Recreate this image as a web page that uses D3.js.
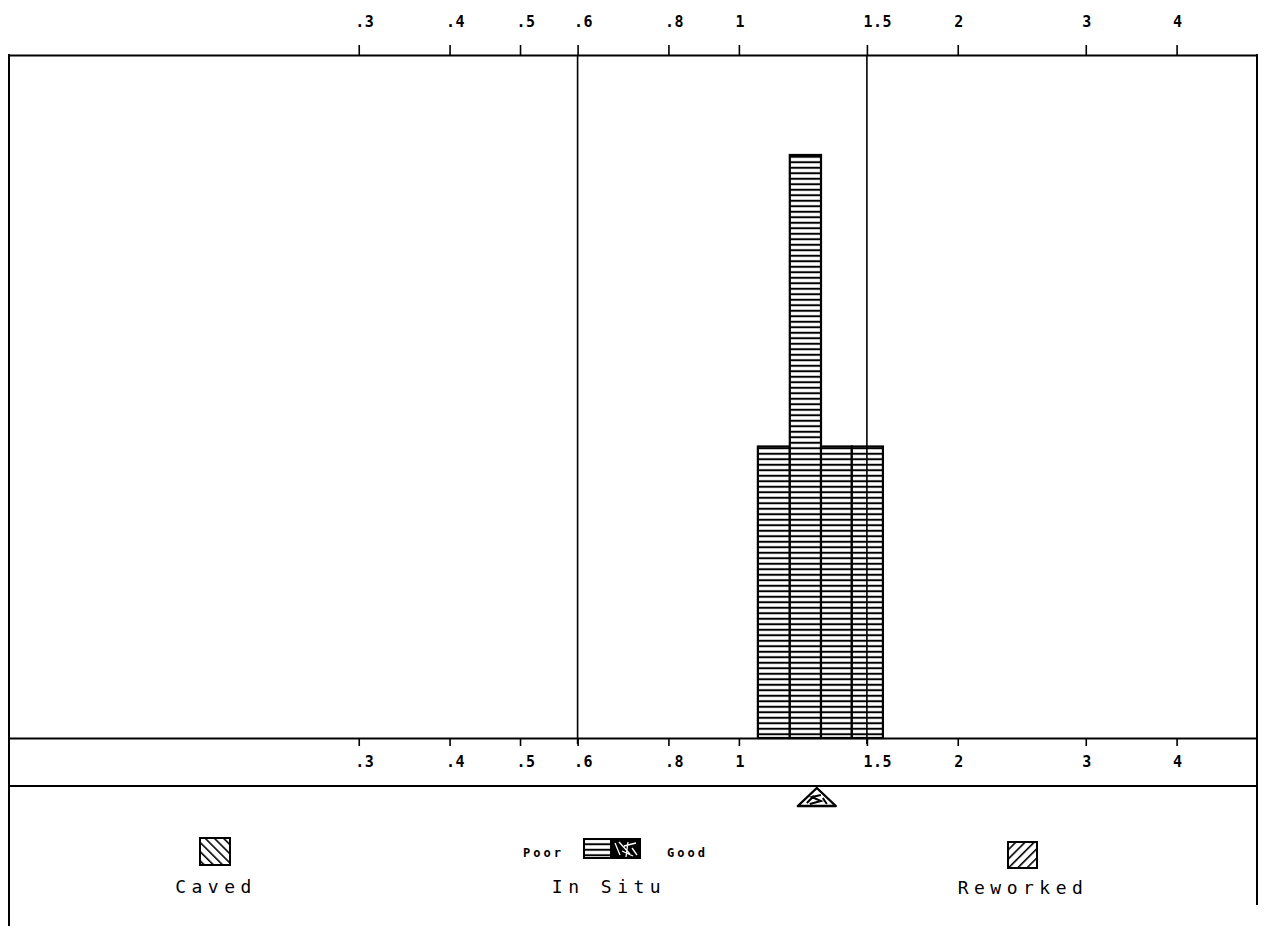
<!DOCTYPE html>
<html><head><meta charset="utf-8">
<script src="https://cdn.jsdelivr.net/npm/d3@7"></script>
<style>body{margin:0;background:#fff}svg{display:block}</style>
</head><body><svg id="c" width="1264" height="926"></svg>
<script>
// ---- data ----
const tickValues = [0.3, 0.4, 0.5, 0.6, 0.8, 1, 1.5, 2, 3, 4];
const tickLabels = [".3", ".4", ".5", ".6", ".8", "1", "1.5", "2", "3", "4"];
const binLower  = [1.062, 1.175, 1.297, 1.43];
const binUpper  = [1.175, 1.297, 1.43, 1.578];
const binCounts = [1, 2, 1, 1];
const refLines  = [0.6, 1.5];
const meanMarker = [1.28];
const legendNames = ["Caved", "In Situ", "Reworked"];
const legendSub = ["Poor", "Good"];

// ---- layout ----
const L = 9, R = 1257, T = 55, B = 738, B2 = 786;
const svg = d3.select("#c");
const x = d3.scaleLog().domain([0.0991, 5.16]).range([L, R]);
const y = d3.scaleLinear().domain([0, 2.343]).range([B, T]);
const font = "'DejaVu Sans Mono', monospace";

// patterns
const defs = svg.append("defs");
const ph = defs.append("pattern").attr("id","hlines").attr("patternUnits","userSpaceOnUse")
  .attr("width",8).attr("height",5.5);
ph.append("rect").attr("width",8).attr("height",5.5).attr("fill","#fff");
ph.append("line").attr("x1",0).attr("x2",8).attr("y1",2.75).attr("y2",2.75).attr("stroke","#000").attr("stroke-width",2);

function diag(id, angle, gap){
  const p = defs.append("pattern").attr("id",id).attr("patternUnits","userSpaceOnUse")
    .attr("width",gap).attr("height",gap).attr("patternTransform",`rotate(${angle})`);
  p.append("rect").attr("width",gap).attr("height",gap).attr("fill","#fff");
  p.append("line").attr("x1",0).attr("x2",0).attr("y1",0).attr("y2",gap).attr("stroke","#000").attr("stroke-width",3.2);
}
diag("caved", -45, 6.5);
diag("rew", 45, 6.5);

// bars
const bins = binCounts.map((c,i)=>({lo:binLower[i], hi:binUpper[i], c}));
svg.append("g").selectAll("rect").data(bins).join("rect")
  .attr("x", d=>x(d.lo)).attr("width", d=>x(d.hi)-x(d.lo))
  .attr("y", d=>y(d.c)).attr("height", d=>y(0)-y(d.c))
  .attr("fill","url(#hlines)").attr("stroke","#000").attr("stroke-width",2.2);

// reference lines
svg.append("g").selectAll("line").data(refLines).join("line")
  .attr("x1",d=>x(d)).attr("x2",d=>x(d)).attr("y1",T).attr("y2",B+6)
  .attr("stroke","#000").attr("stroke-width",1.6);

// axes
function styleAxis(g, dyText){
  g.select(".domain").attr("stroke-width",2).attr("stroke","#000");
  g.selectAll(".tick line").attr("stroke-width",1.6);
  g.selectAll(".tick text").attr("text-anchor","start").attr("x",-4).attr("y",dyText).attr("dy",0)
    .attr("font-family",font).attr("font-size",15).attr("font-weight","bold").attr("letter-spacing",0.5).attr("fill","#000");
}
const axTop = svg.append("g").attr("transform",`translate(0,${T})`)
  .call(d3.axisTop(x).tickValues(tickValues).tickFormat((d,i)=>tickLabels[i]).tickSize(10).tickSizeOuter(0));
styleAxis(axTop, -28);
const axBot = svg.append("g").attr("transform",`translate(0,${B})`)
  .call(d3.axisBottom(x).tickValues(tickValues).tickFormat((d,i)=>tickLabels[i]).tickSize(8).tickSizeOuter(0));
styleAxis(axBot, 29);

// frame
const fr = svg.append("g").attr("stroke","#000").attr("stroke-width",2);
fr.append("line").attr("x1",L).attr("x2",L).attr("y1",T-1).attr("y2",926);
fr.append("line").attr("x1",R).attr("x2",R).attr("y1",T-1).attr("y2",905);
fr.append("line").attr("x1",L).attr("x2",R).attr("y1",B2).attr("y2",B2);

// mean marker triangle
const mk = svg.append("g").selectAll("g").data(meanMarker).join("g")
  .attr("transform", d=>`translate(${x(d)},0)`);
mk.append("path").attr("d", `M0,${B2+2} L19,${B2+20} L-19,${B2+20} Z`)
  .attr("fill","#fff").attr("stroke","#000").attr("stroke-width",2.4).attr("stroke-linejoin","round");
mk.append("path").attr("d", `M4,${B2+9} L-5,${B2+11} L4,${B2+15} L-7,${B2+18} M-10,${B2+17} L-3,${B2+10} M6,${B2+12} L10,${B2+18}`)
  .attr("fill","none").attr("stroke","#000").attr("stroke-width",2);

// legend
const leg = svg.append("g").attr("font-family",font).attr("fill","#000");
const legX = [216, 609, 1023];
leg.append("rect").attr("x",200).attr("y",838).attr("width",30).attr("height",27)
  .attr("fill","url(#caved)").attr("stroke","#000").attr("stroke-width",2);
leg.append("rect").attr("x",1008).attr("y",842).attr("width",29).attr("height",26)
  .attr("fill","url(#rew)").attr("stroke","#000").attr("stroke-width",2);
// in situ box
leg.append("rect").attr("x",584).attr("y",839).attr("width",27).attr("height",19)
  .attr("fill","url(#hlines)").attr("stroke","#000").attr("stroke-width",2);
leg.append("rect").attr("x",611).attr("y",839).attr("width",29).attr("height",19)
  .attr("fill","#000").attr("stroke","#000").attr("stroke-width",2);
leg.append("path").attr("d","M615,843 L620,855 M619,842 L630,854 M624,846 L636,843 M622,851 L633,856 M628,842 L626,857 M632,848 L637,855")
  .attr("stroke","#fff").attr("stroke-width",1.3).attr("fill","none");

leg.selectAll("text.nm").data(legendNames).join("text").attr("class","nm")
  .attr("x",(d,i)=>legX[i]).attr("y",(d,i)=> i===2?894:893)
  .attr("text-anchor","middle").attr("font-size",18).attr("letter-spacing",5.5)
  .text(d=>d);
leg.selectAll("text.sub").data(legendSub).join("text").attr("class","sub")
  .attr("x",(d,i)=> i===0?523:667).attr("y",857)
  .attr("font-size",12).attr("font-weight","bold").attr("letter-spacing",3)
  .text(d=>d);
</script></body></html>
